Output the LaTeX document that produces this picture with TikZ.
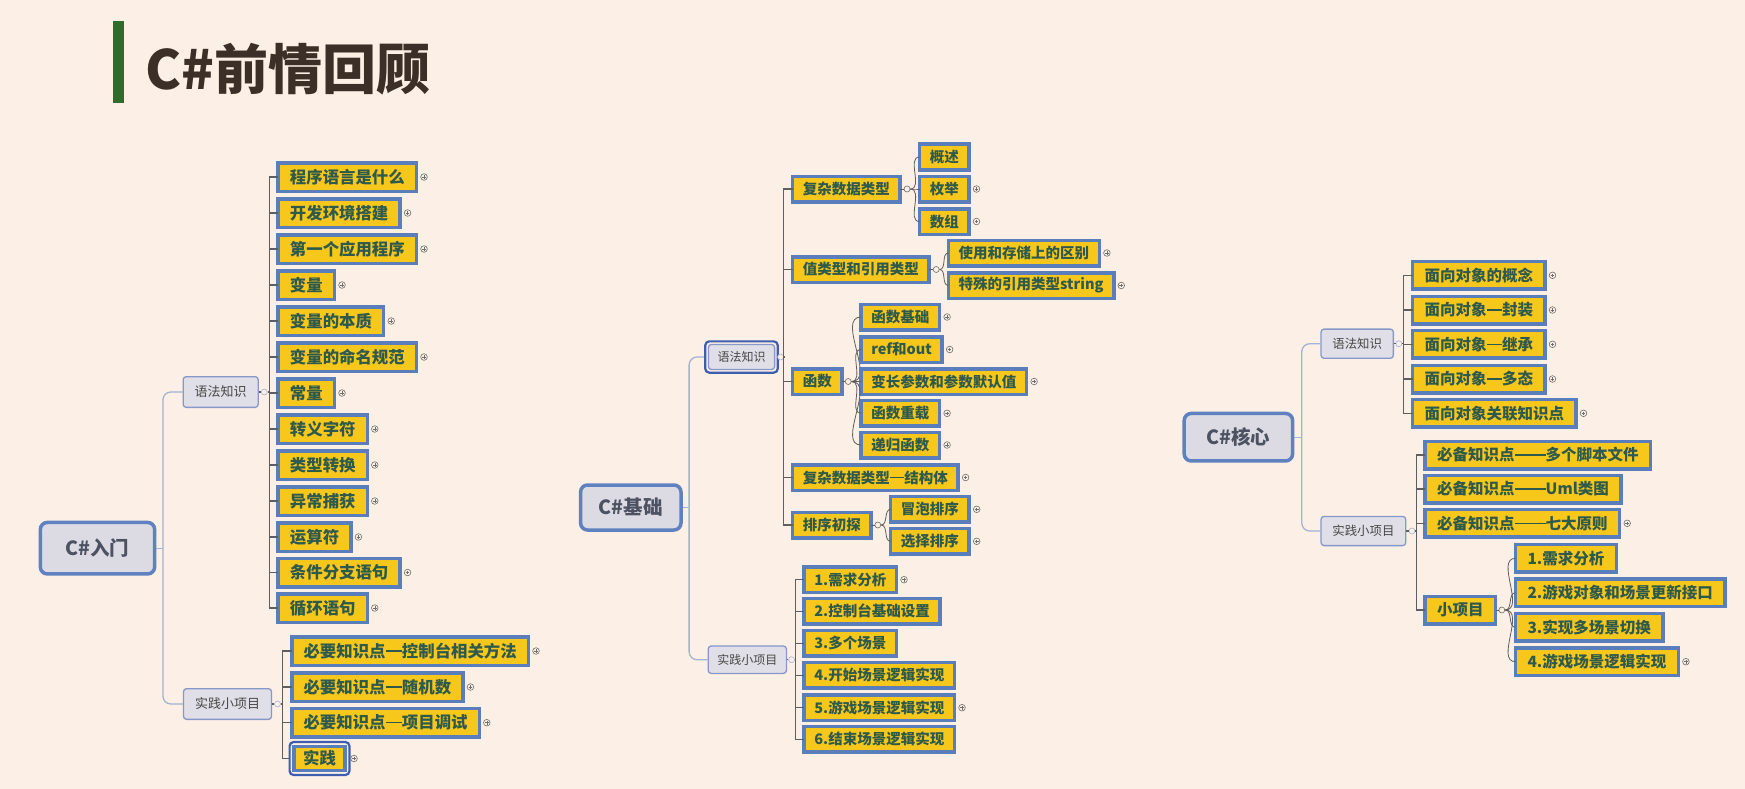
\documentclass[tikz,border=0pt]{standalone}
\usepackage{fontspec}
\setmainfont{Noto Sans CJK SC}
\usetikzlibrary{positioning,fit}

\definecolor{bgpeach}{HTML}{FCEFE5}
\definecolor{titlegreen}{HTML}{2F6B2B}
\definecolor{titlebrown}{HTML}{3B2F27}
\definecolor{leafyellow}{HTML}{F8C71C}
\definecolor{leafblue}{HTML}{5A7EBB}
\definecolor{leafink}{HTML}{2D5A4D}
\definecolor{subfill}{HTML}{E0DFE7}
\definecolor{subline}{HTML}{8598C8}
\definecolor{rootfill}{HTML}{DCDBE3}
\definecolor{rootline}{HTML}{5F81BF}
\definecolor{rootink}{HTML}{4C5262}
\definecolor{limbblue}{HTML}{A2B3D4}
\definecolor{twiggray}{HTML}{5E5E5E}
\definecolor{markgray}{HTML}{6E6E6E}
\definecolor{selblue}{HTML}{3D5DAE}

% full-width dash as in the mind map
\newcommand\wdash{\makebox[1em][c]{\rule[0.34em]{1em}{0.085em}}}

\tikzset{
	rootbox/.style={draw=rootline, line width=3.5pt, fill=rootfill, rounded corners=7pt, text=rootink, font=\bfseries\fontsize{19.5}{20}\selectfont},
	subbox/.style={draw=subline, line width=1.3pt, fill=subfill, rounded corners=3pt, text=black!72},
	leaf/.style={draw=leafblue, line width=3.5pt, fill=leafyellow, text=leafink, anchor=west, outer sep=0pt, inner ysep=0pt},
	leafa/.style={leaf, font=\bfseries\fontsize{16.4}{17}\selectfont, inner xsep=11.75pt, minimum height=28.5pt},
	leafb/.style={leaf, font=\bfseries\fontsize{14.5}{15}\selectfont, inner xsep=10.25pt, minimum height=25.5pt},
	leafc/.style={leaf, font=\bfseries\fontsize{15.5}{16}\selectfont, inner xsep=12pt, minimum height=27.5pt},
	selring/.style={draw=selblue, line width=2.2pt, rounded corners=4pt, inner sep=2.5pt},
	fold/.style={circle, draw=markgray, line width=0.6pt, fill=bgpeach, minimum size=6pt, inner sep=0pt},
	subfold/.style={fold, draw=limbblue},
	limb/.style={draw=limbblue, line width=1.3pt, rounded corners=8pt},
	twig/.style={draw=twiggray, line width=1.1pt},
	vine/.style={draw=twiggray, line width=0.8pt},
	expander/.pic={
		\draw[line width=0.6pt, draw=markgray, fill=bgpeach] (0,0) circle (3.3);
		\draw[line width=0.6pt, draw=markgray] (-1.8,0) -- (1.8,0) (0,-1.8) -- (0,1.8);
	}
}

\begin{document}
\begin{tikzpicture}[x=1pt, y=-1pt]

\fill[bgpeach] (0,0) rectangle (1745,789);
\useasboundingbox (0,0) rectangle (1745,789);

% title
\fill[titlegreen] (112.9,21) rectangle (123.6,102.7);
\node[anchor=west, inner sep=0pt, text=titlebrown, font=\bfseries\fontsize{54}{60}\selectfont] (Title) at (145,69) {C\#前情回顾};

%%% C#入门
\begin{scope}
	\node[rootbox, minimum width=114.3pt, minimum height=51.5pt] (rootA) at (97.5,548.2) {C\#入门};
	\node[subbox, font=\fontsize{13}{13}\selectfont, inner xsep=11.5pt, minimum height=30.7pt] (synA) at (220.7,392) {语法知识};
	\node[subbox, font=\fontsize{13}{13}\selectfont, inner xsep=11.5pt, minimum height=30.7pt] (prjA) at (227.5,704) {实践小项目};

	\coordinate (rootA-t) at (162.9,548.2);
	\draw[limb] (rootA.east) -- (rootA-t);
	\draw[limb] (rootA-t) |- (synA.west);
	\draw[limb] (rootA-t) |- (prjA.west);

	\node[subfold] (synA-f) at (264.3,392) {};
	\coordinate (synA-t) at (269.3,392);
	\draw[twig] (synA) -- (synA-f) (synA-f) -- (synA-t);

	\foreach \y/\l/\p [count = \i] in {177/程序语言是什么/1, 213/开发环境搭建/1, 249/第一个应用程序/1, 285/变量/1, 321/变量的本质/1, 357/变量的命名规范/1, 393/常量/1, 429/转义字符/1, 465/类型转换/1, 501/异常捕获/1, 537/运算符/1, 572.5/条件分支语句/1, 608/循环语句/1} {
		\node[leafa] (synA-\i) at (278.2,\y) {\l};
		\draw[twig] (synA-t) |- (synA-\i.west);
		\ifnum\p=1 \pic at ([xshift=7.5pt]synA-\i.east) {expander}; \fi
	}

	\node[subfold] (prjA-f) at (277.5,704) {};
	\coordinate (prjA-t) at (282.9,704);
	\draw[twig] (prjA) -- (prjA-f) (prjA-f) -- (prjA-t);

	\foreach \y/\l/\p [count = \i] in {651/必要知识点\wdash 控制台相关方法/1, 687/必要知识点\wdash 随机数/1, 722.7/必要知识点\wdash 项目调试/1} {
		\node[leafa] (prjA-\i) at (291.8,\y) {\l};
		\draw[twig] (prjA-t) |- (prjA-\i.west);
		\ifnum\p=1 \pic at ([xshift=7.5pt]prjA-\i.east) {expander}; \fi
	}

	\node[leafa, anchor=center, inner xsep=9pt, minimum height=24pt] (prjA-4) at (319.5,758.5) {实践};
	\node[selring, inner sep=4.5pt] (prjA-4r) [fit=(prjA-4)] {};
	\draw[twig] (prjA-t) |- (prjA-4r.west);
	\pic at ([xshift=3.5pt]prjA-4r.east) {expander};
\end{scope}

%%% C#基础
\begin{scope}
	\node[rootbox, minimum width=100.4pt, minimum height=45pt] (rootB) at (630.8,507.5) {C\#基础};
	\node[subbox, font=\fontsize{12}{12}\selectfont, inner xsep=9.1pt, minimum height=25pt] (synB) at (741.5,357) {语法知识};
	\node[selring] (synB-r) [fit=(synB)] {};
	\node[subbox, font=\fontsize{12}{12}\selectfont, inner xsep=9.1pt, minimum height=27.4pt] (prjB) at (747.3,659.7) {实践小项目};

	\coordinate (rootB-t) at (689.1,507.5);
	\draw[limb] (rootB.east) -- (rootB-t);
	\draw[limb] (rootB-t) |- (synB-r.west);
	\draw[limb] (rootB-t) |- (prjB.west);

	\node[subfold] (synB-f) at (780.6,357) {};
	\coordinate (synB-t) at (783.8,357);
	\draw[twig] (synB-f) -- (synB-t);

	\foreach \y/\l/\p [count = \i] in {189/复杂数据类型/0, 269.5/值类型和引用类型/0, 381.5/函数/0, 477.5/复杂数据类型\wdash 结构体/1, 525/排序初探/0} {
		\node[leafb] (synB-\i) at (792.6,\y) {\l};
		\draw[twig] (synB-t) |- (synB-\i.west);
		\ifnum\p=1 \pic at ([xshift=7.5pt]synB-\i.east) {expander}; \fi
	}

	% second level
	\node[fold] (synB-1f) at (907,189) {};
	\draw[vine] (synB-1) -- (synB-1f);
	\foreach \y/\l/\p [count = \i] in {157/概述/0, 189/枚举/1, 221.5/数组/1} {
		\node[leafb] (cplx-\i) at (919.5,\y) {\l};
		\draw[vine] (synB-1f) to[out=0, in=180] (cplx-\i.west);
		\ifnum\p=1 \pic at ([xshift=7.5pt]cplx-\i.east) {expander}; \fi
	}

	\node[fold] (synB-2f) at (936.2,269.5) {};
	\draw[vine] (synB-2) -- (synB-2f);
	\foreach \y/\l/\p [count = \i] in {253/使用和存储上的区别/1, 285.5/特殊的引用类型string/1} {
		\node[leafb] (vref-\i) at (948.4,\y) {\l};
		\draw[vine] (synB-2f) to[out=0, in=180] (vref-\i.west);
		\ifnum\p=1 \pic at ([xshift=7.5pt]vref-\i.east) {expander}; \fi
	}

	\node[fold] (synB-3f) at (848.2,381.5) {};
	\draw[vine] (synB-3) -- (synB-3f);
	\foreach \y/\l/\p [count = \i] in {317/函数基础/1, 349.5/ref和out/1, 381.5/变长参数和参数默认值/1, 413.3/函数重载/1, 445/递归函数/1} {
		\node[leafb] (func-\i) at (861.1,\y) {\l};
		\draw[vine] (synB-3f) to[out=0, in=180] (func-\i.west);
		\ifnum\p=1 \pic at ([xshift=7.5pt]func-\i.east) {expander}; \fi
	}

	\node[fold] (synB-5f) at (877.8,525) {};
	\draw[vine] (synB-5) -- (synB-5f);
	\foreach \y/\l/\p [count = \i] in {509.3/冒泡排序/1, 541.3/选择排序/1} {
		\node[leafb] (sort-\i) at (890.7,\y) {\l};
		\draw[vine] (synB-5f) to[out=0, in=180] (sort-\i.west);
		\ifnum\p=1 \pic at ([xshift=7.5pt]sort-\i.east) {expander}; \fi
	}

	\node[subfold] (prjB-f) at (791.6,659.7) {};
	\coordinate (prjB-t) at (795.6,659.7);
	\draw[twig] (prjB) -- (prjB-f) (prjB-f) -- (prjB-t);

	\foreach \y/\l/\p [count = \i] in {579.7/1.需求分析/1, 611.3/2.控制台基础设置/0, 643.3/3.多个场景/0, 675.3/4.开始场景逻辑实现/0, 707.7/5.游戏场景逻辑实现/1, 739.3/6.结束场景逻辑实现/0} {
		\node[leafb] (prjB-\i) at (804.1,\y) {\l};
		\draw[twig] (prjB-t) |- (prjB-\i.west);
		\ifnum\p=1 \pic at ([xshift=7.5pt]prjB-\i.east) {expander}; \fi
	}
\end{scope}

%%% C#核心
\begin{scope}
	\node[rootbox, minimum width=108.4pt, minimum height=47.5pt] (rootC) at (1238.4,437.2) {C\#核心};
	\node[subbox, font=\fontsize{12.4}{12.4}\selectfont, inner xsep=11.35pt, minimum height=29.2pt] (synC) at (1357.2,343.7) {语法知识};
	\node[subbox, font=\fontsize{12.4}{12.4}\selectfont, inner xsep=11.35pt, minimum height=29.2pt] (prjC) at (1363.4,531) {实践小项目};

	\coordinate (rootC-t) at (1301.8,437.2);
	\draw[limb] (rootC.east) -- (rootC-t);
	\draw[limb] (rootC-t) |- (synC.west);
	\draw[limb] (rootC-t) |- (prjC.west);

	\node[subfold] (synC-f) at (1398.8,343.7) {};
	\coordinate (synC-t) at (1403.3,343.7);
	\draw[twig] (synC) -- (synC-f) (synC-f) -- (synC-t);

	\foreach \y/\l/\p [count = \i] in {275.3/面向对象的概念/1, 310/面向对象\wdash 封装/1, 344.3/面向对象\wdash 继承/1, 379/面向对象\wdash 多态/1, 413.3/面向对象关联知识点/1} {
		\node[leafc] (synC-\i) at (1412.5,\y) {\l};
		\draw[twig] (synC-t) |- (synC-\i.west);
		\ifnum\p=1 \pic at ([xshift=7.5pt]synC-\i.east) {expander}; \fi
	}

	\node[subfold] (prjC-f) at (1411.9,531) {};
	\coordinate (prjC-t) at (1416.7,531);
	\draw[twig] (prjC) -- (prjC-f) (prjC-f) -- (prjC-t);

	\foreach \y/\l/\p [count = \i] in {455/必备知识点\wdash\wdash 多个脚本文件/0, 489/必备知识点\wdash\wdash Uml类图/0, 523.3/必备知识点\wdash\wdash 七大原则/1, 610/小项目/0} {
		\node[leafc] (prjC-\i) at (1425.2,\y) {\l};
		\draw[twig] (prjC-t) |- (prjC-\i.west);
		\ifnum\p=1 \pic at ([xshift=7.5pt]prjC-\i.east) {expander}; \fi
	}

	\node[fold] (prjC-4f) at (1501.8,610) {};
	\draw[vine] (prjC-4) -- (prjC-4f);
	\foreach \y/\l/\p [count = \i] in {558.3/1.需求分析/0, 592.7/2.游戏对象和场景更新接口/0, 627.3/3.实现多场景切换/0, 661.7/4.游戏场景逻辑实现/1} {
		\node[leafc] (mini-\i) at (1515.5,\y) {\l};
		\draw[vine] (prjC-4f) to[out=0, in=180] (mini-\i.west);
		\ifnum\p=1 \pic at ([xshift=7.5pt]mini-\i.east) {expander}; \fi
	}
\end{scope}

\end{tikzpicture}
\end{document}
